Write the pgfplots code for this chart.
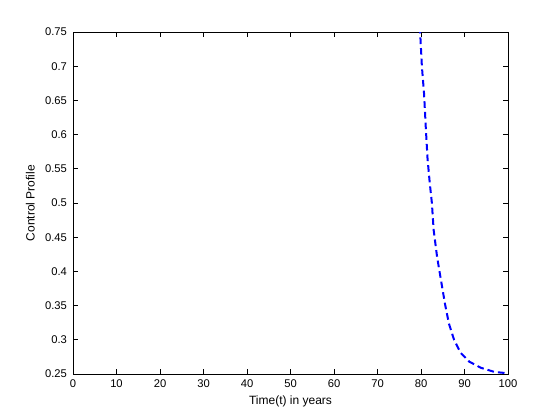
\documentclass[border=0pt]{standalone}
\usepackage{pgfplots}
\pgfplotsset{compat=1.18}
\usepackage{fontspec}
\setmainfont{Liberation Sans}
\begin{document}
\begin{tikzpicture}
\fill[white] (0pt,0pt) rectangle (420pt,315pt);
\begin{axis}[
  at={(54.75pt,34.5pt)}, anchor=south west,
  scale only axis,
  width=326.25pt, height=256.5pt,
  xmin=0, xmax=100, ymin=0.25, ymax=0.75,
  xtick={0,10,...,100},
  ytick={0.25,0.3,0.35,0.4,0.45,0.5,0.55,0.6,0.65,0.7,0.75},
  /pgf/number format/fixed,
  /pgf/number format/precision=2,
  /pgf/number format/assume math mode=true,
  tick align=inside,
  major tick length=3.5pt,
  axis line style={black, line width=0.5pt},
  tick style={black, line width=0.5pt},
  ticklabel style={font=\fontsize{8.4}{10}\selectfont},
  xticklabel style={yshift=-1pt},
  yticklabel style={xshift=-1pt},
  label style={font=\fontsize{9}{10}\selectfont},
  xlabel={Time(t) in years},
  ylabel={Control Profile},
  xlabel style={yshift=1pt},
  ylabel style={yshift=1pt},
  clip=true,
]
\addplot[color={rgb,255:red,0;green,0;blue,255}, line width=1.5pt, dash pattern=on 5pt off 3pt] coordinates {
(79.2,0.82)
(79.8,0.75)
(80.2,0.70)
(80.7,0.66)
(81.1,0.61)
(81.5,0.565)
(82.0,0.53)
(82.5,0.50)
(82.9,0.461)
(83.7,0.421)
(84.7,0.383)
(85.5,0.353)
(86.4,0.324)
(87.6,0.300)
(89.1,0.281)
(91.1,0.268)
(93.8,0.259)
(96.9,0.253)
(100,0.251)
};
\end{axis}
\end{tikzpicture}
\end{document}
